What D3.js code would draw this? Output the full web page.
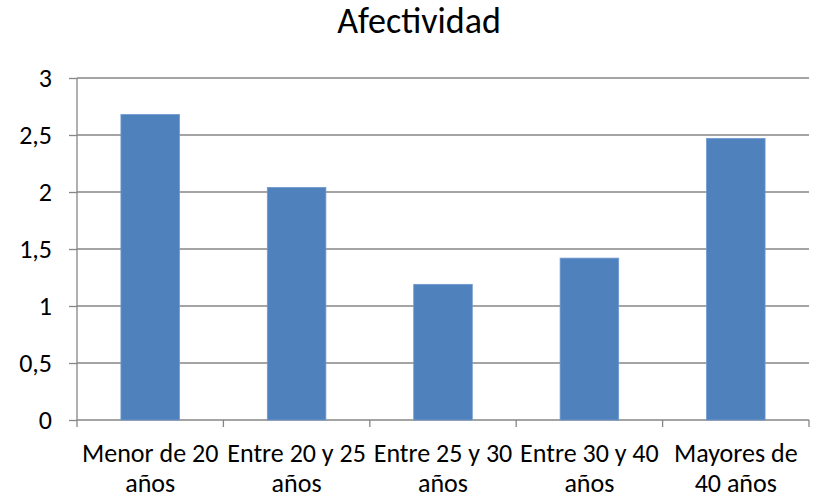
<!DOCTYPE html>
<html>
<head>
<meta charset="utf-8">
<script src="https://cdn.jsdelivr.net/npm/d3@7"></script>
<style>
  body { margin: 0; background: #fff; }
  text { font-family: Carlito, Lato, "Open Sans", sans-serif; fill: #000; }
</style>
</head>
<body>
<svg id="chart" width="816" height="499"></svg>
<script>
// chart data
var categories = [["Menor de 20", "años"], ["Entre 20 y 25", "años"], ["Entre 25 y 30", "años"], ["Entre 30 y 40", "años"], ["Mayores de", "40 años"]];
var values = [2.68, 2.04, 1.19, 1.42, 2.47];
var yTicks = [0, 0.5, 1, 1.5, 2, 2.5, 3];
var titleText = "Afectividad";

var svg = d3.select("#chart");
var margin = {left: 77, right: 7, top: 78, bottom: 79};
var w = 816 - margin.left - margin.right,
    h = 499 - margin.top - margin.bottom;

var x = d3.scaleBand()
  .domain(d3.range(categories.length))
  .range([0, w])
  .paddingInner(0.6)
  .paddingOuter(0.3);

var y = d3.scaleLinear().domain([0, 3]).range([h, 0]);

var g = svg.append("g").attr("transform", "translate(" + margin.left + "," + margin.top + ")");

// y ticks + labels
var yAxis = d3.axisLeft(y).tickValues(yTicks)
  .tickFormat(function (d) { return String(d).replace(".", ","); })
  .tickSize(8).tickPadding(17);
var ya = g.append("g").call(yAxis);
ya.select(".domain").remove();
ya.selectAll(".tick line").attr("stroke", "#868686").attr("stroke-width", 1.3);
ya.selectAll(".tick text").style("font-size", "26px").style("font-family", null);

// gridlines
g.append("g").selectAll("line.grid").data(yTicks).enter().append("line")
  .attr("x1", 0).attr("x2", w)
  .attr("y1", function (d) { return y(d); })
  .attr("y2", function (d) { return y(d); })
  .attr("stroke", "#868686").attr("stroke-width", 1.3);

// bars
g.append("g").selectAll("rect").data(values).enter().append("rect")
  .attr("x", function (d, i) { return x(i); })
  .attr("y", function (d) { return y(d); })
  .attr("width", x.bandwidth())
  .attr("height", function (d) { return h - y(d); })
  .attr("fill", "#4f81bd")
  .attr("stroke", "#6f9ad0").attr("stroke-width", 0.8);

// y axis line
g.append("line").attr("x1", 0).attr("x2", 0).attr("y1", 0).attr("y2", h)
  .attr("stroke", "#868686").attr("stroke-width", 1.3);

// x axis boundary ticks
var step = x.step();
g.append("g").selectAll("line").data(d3.range(categories.length + 1)).enter().append("line")
  .attr("x1", function (i) { return i * step; })
  .attr("x2", function (i) { return i * step; })
  .attr("y1", h).attr("y2", h + 7)
  .attr("stroke", "#868686").attr("stroke-width", 1.3);

// x labels
var xl = g.append("g").selectAll("text").data(categories).enter().append("text")
  .attr("x", function (d, i) { return x(i) + x.bandwidth() / 2; })
  .attr("y", h + 42)
  .attr("text-anchor", "middle")
  .style("font-size", "26px");
xl.append("tspan").text(function (d) { return d[0]; });
xl.append("tspan")
  .attr("x", function (d, i) { return x(i) + x.bandwidth() / 2; })
  .attr("dy", 30)
  .text(function (d) { return d[1]; });

// title
svg.append("text").attr("x", 419).attr("y", 33)
  .attr("text-anchor", "middle")
  .style("font-size", "36px")
  .text(titleText);
</script>
</body>
</html>
